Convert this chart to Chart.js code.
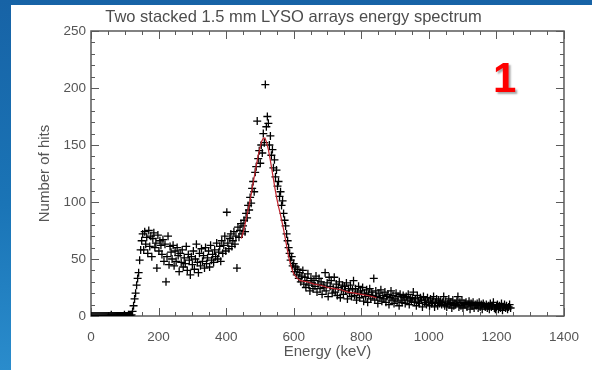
<!DOCTYPE html>
<html>
<head>
<meta charset="utf-8">
<script src="https://cdn.jsdelivr.net/npm/chart.js@4.4.1/dist/chart.umd.min.js"></script>
<style>
  html, body { margin: 0; padding: 0; }
  body {
    width: 592px; height: 370px; overflow: hidden; position: relative;
    background: linear-gradient(180deg, #1763a6 0%, #1a74b6 55%, #2a8ccc 100%);
  }
  #panel { position: absolute; left: 11px; top: 5px; width: 581px; height: 365px; background: #fff; }
  #myChart { position: absolute; left: 0; top: 0; }
  #badge {
    position: absolute; left: 493px; top: 57px;
    font: bold 42px "Liberation Sans", Arial, sans-serif; line-height: 1;
    color: #ff0000; text-shadow: 2px 2px 2px rgba(0, 0, 0, 0.35);
  }
</style>
</head>
<body>
<div id="panel"><canvas id="myChart" width="581" height="365"></canvas></div>
<div id="badge">1</div>
<script>
// Texte a osy
var chartTitle = 'Two stacked 1.5 mm LYSO arrays energy spectrum';
var xAxisTitle = 'Energy (keV)';
var yAxisTitle = 'Number of hits';
var xTickValues = [0, 200, 400, 600, 800, 1000, 1200, 1400];
var yTickValues = [0, 50, 100, 150, 200, 250];

// Namerene body (energie v keV, pocet zasahu)
var energyKeV = [
  0, 3, 6, 9, 12, 15, 18, 21, 24, 27,
  30, 33, 36, 39, 42, 45, 48, 51, 54, 57,
  60, 63, 66, 69, 72, 75, 78, 81, 84, 87,
  90, 93, 96, 99, 102, 105, 108, 111, 114, 117,
  120, 123, 126, 129, 132, 135, 138, 141, 144, 147,
  150, 153, 156, 159, 162, 165, 168, 171, 174, 177,
  180, 183, 186, 189, 192, 195, 198, 201, 204, 207,
  210, 213, 216, 219, 222, 225, 228, 231, 234, 237,
  240, 243, 246, 249, 252, 255, 258, 261, 264, 267,
  270, 273, 276, 279, 282, 285, 288, 291, 294, 297,
  300, 303, 306, 309, 312, 315, 318, 321, 324, 327,
  330, 333, 336, 339, 342, 345, 348, 351, 354, 357,
  360, 363, 366, 369, 372, 375, 378, 381, 384, 387,
  390, 393, 396, 399, 402, 405, 408, 411, 414, 417,
  420, 423, 426, 429, 432, 435, 438, 441, 444, 447,
  450, 453, 456, 459, 462, 465, 468, 471, 474, 477,
  480, 483, 486, 489, 492, 495, 498, 501, 504, 507,
  510, 513, 516, 519, 522, 525, 528, 531, 534, 537,
  540, 543, 546, 549, 552, 555, 558, 561, 564, 567,
  570, 573, 576, 579, 582, 585, 588, 591, 594, 597,
  600, 603, 606, 609, 612, 615, 618, 621, 624, 627,
  630, 633, 636, 639, 642, 645, 648, 651, 654, 657,
  660, 663, 666, 669, 672, 675, 678, 681, 684, 687,
  690, 693, 696, 699, 702, 705, 708, 711, 714, 717,
  720, 723, 726, 729, 732, 735, 738, 741, 744, 747,
  750, 753, 756, 759, 762, 765, 768, 771, 774, 777,
  780, 783, 786, 789, 792, 795, 798, 801, 804, 807,
  810, 813, 816, 819, 822, 825, 828, 831, 834, 837,
  840, 843, 846, 849, 852, 855, 858, 861, 864, 867,
  870, 873, 876, 879, 882, 885, 888, 891, 894, 897,
  900, 903, 906, 909, 912, 915, 918, 921, 924, 927,
  930, 933, 936, 939, 942, 945, 948, 951, 954, 957,
  960, 963, 966, 969, 972, 975, 978, 981, 984, 987,
  990, 993, 996, 999, 1002, 1005, 1008, 1011, 1014, 1017,
  1020, 1023, 1026, 1029, 1032, 1035, 1038, 1041, 1044, 1047,
  1050, 1053, 1056, 1059, 1062, 1065, 1068, 1071, 1074, 1077,
  1080, 1083, 1086, 1089, 1092, 1095, 1098, 1101, 1104, 1107,
  1110, 1113, 1116, 1119, 1122, 1125, 1128, 1131, 1134, 1137,
  1140, 1143, 1146, 1149, 1152, 1155, 1158, 1161, 1164, 1167,
  1170, 1173, 1176, 1179, 1182, 1185, 1188, 1191, 1194, 1197,
  1200, 1203, 1206, 1209, 1212, 1215, 1218, 1221, 1224, 1227,
  1230, 1233, 1236, 1239, 1242
];
var hitCounts = [
  0, 0, 0, 0, 0, 0, 0, 0, 0, 0,
  0, 0, 0, 0, 0, 0, 0, 0, 0, 0,
  1, 0, 0, 0, 0, 0, 0, 0, 0, 0,
  0, 0, 0, 1, 0, 0, 0, 1, 0, 0,
  1, 4, 9, 15, 20, 27, 33, 38, 49, 58,
  66, 72, 58, 74, 63, 69, 55, 75, 61, 70,
  52, 68, 73, 60, 64, 42, 71, 57, 66, 62,
  54, 67, 48, 63, 30, 52, 70, 45, 61, 56,
  50, 62, 44, 57, 48, 60, 53, 39, 55, 47,
  58, 43, 51, 46, 61, 40, 54, 49, 36, 52,
  45, 57, 41, 50, 63, 47, 38, 55, 44, 59,
  48, 53, 42, 60, 46, 51, 57, 43, 62, 49,
  54, 47, 58, 52, 64, 50, 56, 61, 48, 66,
  55, 62, 70, 57, 91, 64, 59, 68, 72, 61,
  66, 74, 63, 70, 42, 78, 69, 75, 81, 72,
  79, 84, 74, 90, 86, 97, 93, 104, 99, 112,
  118, 109, 126, 131, 171, 138, 145, 134, 150, 143,
  160, 152, 203, 166, 175, 169, 150, 158, 141, 146,
  130, 137, 122, 128, 114, 118, 105, 109, 97, 101,
  90, 84, 79, 72, 66, 60, 55, 49, 52, 44,
  46, 39, 43, 36, 41, 33, 38, 30, 35, 40,
  28, 34, 25, 31, 37, 27, 22, 33, 29, 24,
  31, 26, 35, 21, 28, 33, 24, 30, 19, 27,
  25, 38, 22, 29, 17, 34, 26, 31, 20, 24,
  34, 21, 28, 18, 25, 30, 16, 23, 27, 19,
  26, 22, 29, 15, 24, 20, 27, 17, 23, 31,
  18, 24, 14, 21, 26, 16, 22, 19, 25, 13,
  20, 17, 23, 12, 19, 24, 15, 21, 18, 33,
  14, 22, 17, 11, 20, 16, 23, 13, 18, 15,
  21, 12, 17, 19, 10, 16, 22, 14, 18, 11,
  15, 20, 13, 17, 9, 19, 14, 12, 18, 16,
  11, 17, 14, 19, 10, 15, 13, 16, 21, 12,
  15, 9, 18, 13, 11, 16, 14, 8, 17, 12,
  14, 10, 16, 12, 9, 15, 11, 13, 17, 8,
  12, 15, 9, 14, 11, 13, 10, 12, 17, 9,
  13, 8, 11, 15, 10, 12, 7, 14, 9, 11,
  10, 13, 17, 8, 12, 9, 14, 7, 11, 10,
  12, 8, 10, 13, 6, 11, 9, 12, 7, 10,
  9, 11, 7, 12, 8, 10, 6, 11, 9, 8,
  10, 7, 9, 6, 11, 8, 9, 12, 7, 6,
  8, 10, 6, 9, 7, 11, 5, 8, 10, 7,
  9, 6, 8, 10, 7
];

// Cervena krivka fitu
var fitEnergyKeV = [
  445, 450, 455, 460, 465, 470, 475, 480, 485, 490,
  495, 500, 505, 510, 515, 520, 525, 530, 535, 540,
  545, 550, 555, 560, 565, 570, 575, 580, 585, 590,
  595, 600, 610, 620, 640, 660, 680, 700, 720, 740,
  760, 780, 800, 820, 845
];
var fitCounts = [
  68, 73, 79, 86, 93, 100, 108, 117, 125, 133,
  141, 147, 153, 156, 156, 152, 146, 138, 129, 120,
  111, 103, 96, 90, 83, 76, 68, 60, 52, 46,
  41, 37, 33, 31, 30, 28, 27, 25, 24, 23,
  21, 20, 19, 18, 16
];

function toPoints(xs, ys) {
  return xs.map(function (x, i) { return { x: x, y: ys[i] }; });
}

// Ramecek s ticky dovnitr (styl IDL)
var frameTicks = {
  id: 'frameTicks',
  beforeDatasetsDraw: function (chart) {
    var ctx = chart.ctx, a = chart.chartArea, x = chart.scales.x, y = chart.scales.y;
    ctx.save();
    ctx.strokeStyle = '#5a5a5a';
    ctx.lineWidth = 1.5;
    ctx.strokeRect(a.left, a.top, a.right - a.left, a.bottom - a.top);
    ctx.lineWidth = 1;
    ctx.beginPath();
    for (var v = x.min; v <= x.max; v += 50) {
      var px = Math.round(x.getPixelForValue(v)) + 0.5;
      var len = v % 200 === 0 ? 8 : 4;
      ctx.moveTo(px, a.bottom); ctx.lineTo(px, a.bottom - len);
      ctx.moveTo(px, a.top); ctx.lineTo(px, a.top + len);
    }
    for (var w = y.min; w <= y.max; w += 10) {
      var py = Math.round(y.getPixelForValue(w)) + 0.5;
      var ln = w % 50 === 0 ? 8 : 4;
      ctx.moveTo(a.left, py); ctx.lineTo(a.left + ln, py);
      ctx.moveTo(a.right, py); ctx.lineTo(a.right - ln, py);
    }
    ctx.stroke();
    ctx.restore();
  }
};

var fontFamily = '"Liberation Sans", Arial, Helvetica, sans-serif';
var ctx = document.getElementById('myChart').getContext('2d');

new Chart(ctx, {
  type: 'scatter',
  data: {
    datasets: [{
      label: 'Fit',
      type: 'line',
      data: toPoints(fitEnergyKeV, fitCounts),
      borderColor: '#c0222c',
      borderWidth: 1.2,
      pointRadius: 0,
      fill: false,
      tension: 0,
      order: 0
    }, {
      label: 'Hits',
      data: toPoints(energyKeV, hitCounts),
      pointStyle: 'cross',
      pointRadius: 4,
      pointBorderWidth: 1.3,
      borderColor: '#000',
      backgroundColor: '#000',
      clip: 0,
      order: 1
    }]
  },
  options: {
    responsive: false,
    animation: false,
    layout: { padding: { left: 0, right: 16, top: 0, bottom: 0 } },
    plugins: {
      legend: { display: false },
      tooltip: { enabled: false },
      title: {
        display: true,
        text: chartTitle,
        color: '#4d4d4d',
        font: { family: fontFamily, size: 16.5, weight: 'normal', lineHeight: 1.2 },
        padding: { top: 2.6, bottom: 3.6 }
      }
    },
    scales: {
      x: {
        type: 'linear',
        min: 0,
        max: 1400,
        afterBuildTicks: function (s) { s.ticks = xTickValues.map(function (v) { return { value: v }; }); },
        afterFit: function (s) { s.height = 54; },
        grid: { display: false, drawTicks: false },
        border: { display: false },
        ticks: { padding: 13, color: '#555', autoSkip: false, maxRotation: 0,
                 callback: function (v) { return String(v); },
                 font: { family: fontFamily, size: 13.5, lineHeight: 1.2 } },
        title: { display: true, text: xAxisTitle, color: '#555', padding: { top: 0, bottom: 9 },
                 font: { family: fontFamily, size: 15, lineHeight: 1.2 } }
      },
      y: {
        min: 0,
        max: 250,
        afterBuildTicks: function (s) { s.ticks = yTickValues.map(function (v) { return { value: v }; }); },
        afterFit: function (s) { s.width = 80; },
        grid: { display: false, drawTicks: false },
        border: { display: false },
        ticks: { padding: 5, color: '#555', autoSkip: false,
                 callback: function (v) { return String(v); },
                 font: { family: fontFamily, size: 13.5, lineHeight: 1.2 } },
        title: { display: true, text: yAxisTitle, color: '#555', padding: { top: 25, bottom: 0 },
                 font: { family: fontFamily, size: 15, lineHeight: 1.2 } }
      }
    }
  },
  plugins: [frameTicks]
});
</script>
</body>
</html>
